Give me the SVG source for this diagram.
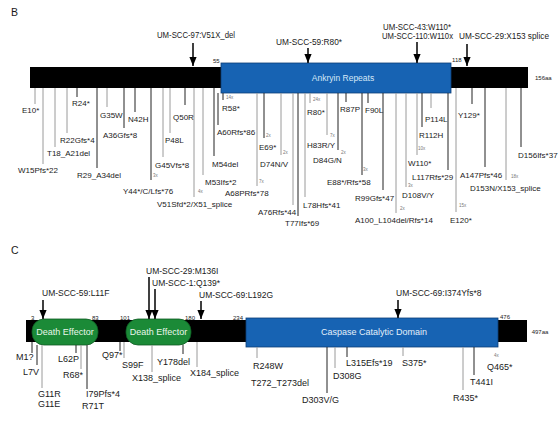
<svg xmlns="http://www.w3.org/2000/svg" width="560" height="423" viewBox="0 0 560 423">
<style>
text{font-family:"Liberation Sans",Arial,sans-serif;fill:#1a1a1a}
.pl{font-size:10.5px}
.up{font-size:8.5px}
.lb{font-size:8px}
.lc{font-size:9px}
.sm{font-size:6px}
.cnt{font-size:4.5px;fill:#777}
.dom{font-size:8.5px;fill:#d6e8f7}
.dom2{font-size:9px;fill:#e3f0fa}
.de{font-size:9px;fill:#eaf7ea}
.k{stroke:#222;stroke-width:1}
.g{stroke:#9a9a9a;stroke-width:1}
.arr{stroke:#000;stroke-width:1.5;marker-end:url(#ah)}
</style>
<defs>
<marker id="ah" viewBox="0 0 10 8" refX="10" refY="4" markerWidth="9" markerHeight="7.2" markerUnits="userSpaceOnUse" orient="auto">
<path d="M0,0 L10,4 L0,8 z" fill="#000"/>
</marker>
</defs>
<rect width="560" height="423" fill="#fff"/>

<!-- Panel B -->
<text class="pl" x="11" y="16">B</text>
<g id="protein-B">
<rect x="30" y="67" width="498" height="21" fill="#000"/>
<text class="sm" x="535" y="80">156aa</text>
</g>
<g id="ankyrin-repeats">
<rect x="221" y="63" width="230" height="30" fill="#1763b3" stroke="#0d3f78" stroke-width="0.8"/>
<text class="dom" x="343" y="81" text-anchor="middle">Ankryin Repeats</text>
<text class="sm" x="213" y="63">55</text>
<text class="sm" x="452" y="62">118</text>
</g>
<g id="cell-lines-B">
<text class="up" x="157" y="38" textLength="78" lengthAdjust="spacingAndGlyphs">UM-SCC-97:V51X_del</text>
<text class="up" x="276" y="45" textLength="66" lengthAdjust="spacingAndGlyphs">UM-SCC-59:R80*</text>
<text class="up" x="383" y="30" textLength="68" lengthAdjust="spacingAndGlyphs">UM-SCC-43:W110*</text>
<text class="up" x="382" y="39" textLength="71" lengthAdjust="spacingAndGlyphs">UM-SCC-110:W110x</text>
<text class="up" x="459" y="39" textLength="90" lengthAdjust="spacingAndGlyphs">UM-SCC-29:X153 splice</text>
</g>
<g id="connectors-B">
<line class="arr" x1="193" y1="43" x2="193" y2="66"/>
<line class="arr" x1="308" y1="48" x2="308" y2="63"/>
<line class="arr" x1="417" y1="42" x2="417" y2="63"/>
<line class="arr" x1="467" y1="44" x2="467" y2="66"/>
<line class="g" x1="35" y1="88" x2="35" y2="104"/>
<line class="g" x1="43" y1="88" x2="43" y2="164"/>
<line class="g" x1="55" y1="88" x2="55" y2="147"/>
<line class="g" x1="67" y1="88" x2="67" y2="133"/>
<line class="k" x1="77" y1="88" x2="77" y2="97"/>
<line class="k" x1="97" y1="88" x2="97" y2="168"/>
<line class="g" x1="107" y1="88" x2="107" y2="107"/>
<line class="k" x1="124" y1="88" x2="124" y2="128"/>
<line class="k" x1="135" y1="88" x2="135" y2="112"/>
<line class="k" x1="151" y1="88" x2="151" y2="180"/>
<line class="g" x1="163" y1="88" x2="163" y2="157"/>
<line class="g" x1="170" y1="88" x2="170" y2="133"/>
<line class="k" x1="185" y1="88" x2="185" y2="105"/>
<line class="g" x1="194" y1="88" x2="194" y2="197"/>
<line class="g" x1="203" y1="88" x2="203" y2="175"/>
<line class="k" x1="214" y1="88" x2="214" y2="156"/>
<line class="k" x1="223" y1="93" x2="223" y2="100"/>
<line class="k" x1="218" y1="93" x2="218" y2="125"/>
<line class="g" x1="257" y1="93" x2="257" y2="186"/>
<line class="k" x1="264" y1="93" x2="264" y2="138"/>
<line class="g" x1="281" y1="93" x2="281" y2="155"/>
<line class="g" x1="293" y1="93" x2="293" y2="205"/>
<line class="k" x1="298" y1="93" x2="298" y2="216"/>
<line class="g" x1="305" y1="93" x2="305" y2="197"/>
<line class="g" x1="310" y1="93" x2="310" y2="103"/>
<line class="g" x1="327" y1="93" x2="327" y2="135"/>
<line class="k" x1="338" y1="93" x2="338" y2="150"/>
<line class="k" x1="346" y1="93" x2="346" y2="102"/>
<line class="k" x1="362" y1="93" x2="362" y2="175"/>
<line class="k" x1="368" y1="93" x2="368" y2="103"/>
<line class="k" x1="383" y1="93" x2="383" y2="190"/>
<line class="g" x1="396" y1="93" x2="396" y2="213"/>
<line class="g" x1="406" y1="93" x2="406" y2="187"/>
<line class="g" x1="417" y1="93" x2="417" y2="155"/>
<line class="k" x1="422" y1="93" x2="422" y2="127"/>
<line class="g" x1="431" y1="93" x2="431" y2="108"/>
<line class="k" x1="448" y1="93" x2="448" y2="170"/>
<line class="g" x1="456" y1="88" x2="456" y2="212"/>
<line class="k" x1="472" y1="88" x2="472" y2="104"/>
<line class="k" x1="485" y1="88" x2="485" y2="167"/>
<line class="g" x1="506" y1="88" x2="506" y2="180"/>
<line class="k" x1="521" y1="88" x2="521" y2="147"/>
</g>
<g id="mutations-B">
<text class="lb" x="22" y="113">E10*</text>
<text class="lb" x="18" y="173">W15Pfs*22</text>
<text class="lb" x="47" y="156">T18_A21del</text>
<text class="lb" x="60" y="143">R22Gfs*4</text>
<text class="lb" x="72" y="106">R24*</text>
<text class="lb" x="77" y="178">R29_A34del</text>
<text class="lb" x="100" y="118">G35W</text>
<text class="lb" x="103" y="138">A36Gfs*8</text>
<text class="lb" x="128" y="122">N42H</text>
<text class="lb" x="123" y="194">Y44*/C/Lfs*76</text>
<text class="lb" x="155" y="168">G45Vfs*8</text>
<text class="lb" x="165" y="143">P48L</text>
<text class="lb" x="173" y="120">Q50R</text>
<text class="lb" x="157" y="207">V51Sfd*2/X51_splice</text>
<text class="lb" x="205" y="185">M53Ifs*2</text>
<text class="lb" x="212" y="167">M54del</text>
<text class="lb" x="222" y="111">R58*</text>
<text class="lb" x="217" y="135">A60Rfs*86</text>
<text class="lb" x="225" y="196">A68PRfs*78</text>
<text class="lb" x="259" y="150">E69*</text>
<text class="lb" x="260" y="167">D74N/V</text>
<text class="lb" x="258" y="215">A76Rfs*44</text>
<text class="lb" x="285" y="226">T77Ifs*69</text>
<text class="lb" x="303" y="208">L78Hfs*41</text>
<text class="lb" x="307" y="115">R80*</text>
<text class="lb" x="307" y="148">H83R/Y</text>
<text class="lb" x="313" y="163">D84G/N</text>
<text class="lb" x="340" y="112">R87P</text>
<text class="lb" x="327" y="185">E88*/Rfs*58</text>
<text class="lb" x="365" y="113">F90L</text>
<text class="lb" x="355" y="201">R99Gfs*47</text>
<text class="lb" x="355" y="223">A100_L104del/Rfs*14</text>
<text class="lb" x="402" y="198">D108V/Y</text>
<text class="lb" x="408" y="166">W110*</text>
<text class="lb" x="419" y="138">R112H</text>
<text class="lb" x="425" y="122">P114L</text>
<text class="lb" x="412" y="180">L117Rfs*29</text>
<text class="lb" x="450" y="223">E120*</text>
<text class="lb" x="458" y="118">Y129*</text>
<text class="lb" x="460" y="178">A147Pfs*46</text>
<text class="lb" x="470" y="191">D153N/X153_splice</text>
<text class="lb" x="518" y="158">D156Ifs*37</text>
<text class="cnt" x="153" y="177">3x</text>
<text class="cnt" x="198" y="193">4x</text>
<text class="cnt" x="226" y="99">14x</text>
<text class="cnt" x="259" y="183">7x</text>
<text class="cnt" x="266" y="137">2x</text>
<text class="cnt" x="283" y="154">2x</text>
<text class="cnt" x="313" y="101">24x</text>
<text class="cnt" x="330" y="137">7x</text>
<text class="cnt" x="341" y="154">2x</text>
<text class="cnt" x="363" y="171">3x</text>
<text class="cnt" x="400" y="210">2x</text>
<text class="cnt" x="408" y="187">3x</text>
<text class="cnt" x="418" y="150">10x</text>
<text class="cnt" x="459" y="207">15x</text>
<text class="cnt" x="511" y="178">18x</text>
</g>

<!-- Panel C -->
<text class="pl" x="11" y="254">C</text>
<g id="protein-C">
<rect x="26" y="320" width="501" height="22" fill="#000"/>
<text class="sm" x="540" y="334" text-anchor="middle">497aa</text>
<text class="sm" x="31" y="320">3</text>
<text class="sm" x="92" y="320">83</text>
<text class="sm" x="120" y="320">101</text>
<text class="sm" x="185" y="320">180</text>
<text class="sm" x="233" y="320">234</text>
<text class="sm" x="500" y="319">476</text>
</g>
<g id="death-effector-1">
<rect x="32" y="319" width="66" height="26" rx="12" fill="#1b8a37" stroke="#0e5a22" stroke-width="0.8"/>
<text class="de" x="65" y="335" text-anchor="middle">Death Effector</text>
</g>
<g id="death-effector-2">
<rect x="126" y="319" width="65" height="26" rx="12" fill="#1b8a37" stroke="#0e5a22" stroke-width="0.8"/>
<text class="de" x="158.5" y="335" text-anchor="middle">Death Effector</text>
</g>
<g id="caspase-domain">
<rect x="246" y="318" width="252" height="29" fill="#1763b3" stroke="#0d3f78" stroke-width="0.8"/>
<text class="dom2" x="374" y="335" text-anchor="middle">Caspase Catalytic Domain</text>
</g>
<g id="cell-lines-C">
<text class="up" x="42" y="296">UM-SCC-59:L11F</text>
<text class="up" x="146" y="274">UM-SCC-29:M136I</text>
<text class="up" x="152" y="286">UM-SCC-1:Q139*</text>
<text class="up" x="199" y="298">UM-SCC-69:L192G</text>
<text class="up" x="396" y="296">UM-SCC-69:I374Yfs*8</text>
</g>
<g id="connectors-C">
<line class="arr" x1="43" y1="300" x2="43" y2="319"/>
<line class="arr" x1="149" y1="277" x2="149" y2="319"/>
<line class="arr" x1="155" y1="289" x2="155" y2="319"/>
<line class="arr" x1="201" y1="301" x2="201" y2="319"/>
<line class="arr" x1="398" y1="300" x2="398" y2="318"/>
<line class="k" x1="32" y1="342" x2="32" y2="353"/>
<line class="k" x1="37" y1="345" x2="37" y2="365"/>
<line class="g" x1="42" y1="345" x2="42" y2="388"/>
<line class="k" x1="76" y1="345" x2="76" y2="353"/>
<line class="g" x1="81" y1="345" x2="81" y2="369"/>
<line class="k" x1="87" y1="345" x2="87" y2="389"/>
<line class="k" x1="120" y1="342" x2="120" y2="351"/>
<line class="g" x1="124" y1="342" x2="124" y2="358"/>
<line class="g" x1="152" y1="345" x2="152" y2="372"/>
<line class="k" x1="183" y1="345" x2="183" y2="354"/>
<line class="g" x1="197" y1="342" x2="197" y2="367"/>
<line class="g" x1="257" y1="347" x2="257" y2="358"/>
<line class="k" x1="327" y1="347" x2="327" y2="393"/>
<line class="g" x1="335" y1="347" x2="335" y2="368"/>
<line class="k" x1="347" y1="347" x2="347" y2="357"/>
<line class="g" x1="403" y1="347" x2="403" y2="356"/>
<line class="g" x1="463" y1="347" x2="463" y2="390"/>
<line class="k" x1="474" y1="347" x2="474" y2="375"/>
</g>
<g id="mutations-C">
<text class="lc" x="16" y="360">M1?</text>
<text class="lc" x="23" y="375">L7V</text>
<text class="lc" x="38" y="397">G11R</text>
<text class="lc" x="38" y="407">G11E</text>
<text class="lc" x="58" y="362">L62P</text>
<text class="lc" x="63" y="378">R68*</text>
<text class="lc" x="86" y="397">I79Pfs*4</text>
<text class="lc" x="82" y="409">R71T</text>
<text class="lc" x="102" y="358">Q97*</text>
<text class="lc" x="122" y="368">S99F</text>
<text class="lc" x="132" y="381">X138_splice</text>
<text class="lc" x="157" y="365">Y178del</text>
<text class="lc" x="190" y="376">X184_splice</text>
<text class="lc" x="253" y="369">R248W</text>
<text class="lc" x="251" y="386">T272_T273del</text>
<text class="lc" x="302" y="403">D303V/G</text>
<text class="lc" x="333" y="379">D308G</text>
<text class="lc" x="346" y="366">L315Efs*19</text>
<text class="lc" x="402" y="366">S375*</text>
<text class="lc" x="453" y="401">R435*</text>
<text class="lc" x="470" y="385">T441I</text>
<text class="lc" x="487" y="370">Q465*</text>
<text class="cnt" x="494" y="357">4x</text>
</g>
</svg>
